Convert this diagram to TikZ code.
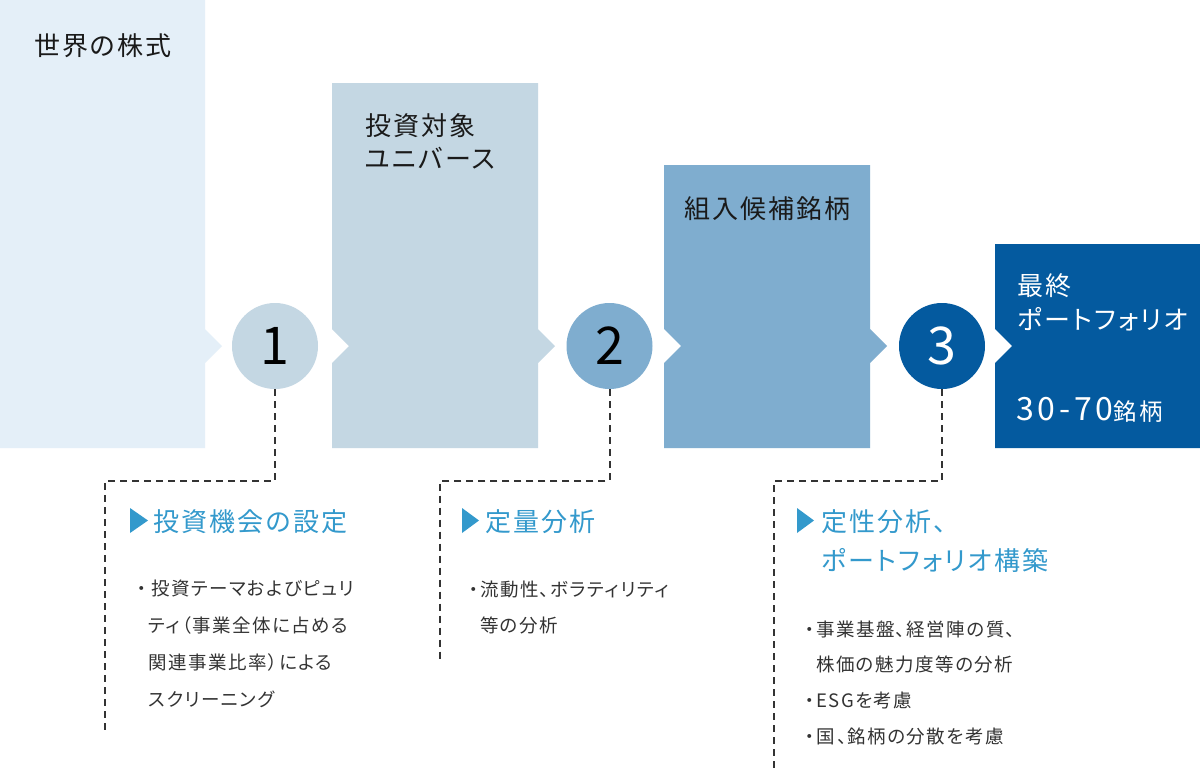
\documentclass[tikz,border=0pt]{standalone}
\usepackage{fontspec}
\setmainfont{Noto Sans CJK JP}[RawFeature=+palt]
\newfontfamily\jpsp{Noto Sans CJK JP}[LetterSpace=8,RawFeature=+palt]
\newfontfamily\jpnum{Noto Sans CJK JP}[LetterSpace=6]
\newfontfamily\jpbig{Noto Sans CJK JP}[LetterSpace=12]
\definecolor{cA}{HTML}{E4EFF8}
\definecolor{cB}{HTML}{C4D7E3}
\definecolor{cC}{HTML}{7FADCF}
\definecolor{cD}{HTML}{045A9F}
\definecolor{hd}{HTML}{3399CC}
\definecolor{tx}{HTML}{333333}
\definecolor{bx}{HTML}{1A1A1A}
\tikzset{
  boxtxt/.style={anchor=base west,inner sep=0pt,text=bx,font=\jpsp\fontsize{26}{30}\selectfont},
  headtxt/.style={anchor=base west,inner sep=0pt,text=hd,font=\jpsp\fontsize{26}{30}\selectfont},
  bultxt/.style={anchor=base west,inner sep=0pt,text=tx,font=\jpsp\fontsize{18.5}{22}\selectfont},
  buldot/.style={anchor=base,inner sep=0pt,text=tx,font=\jpsp\fontsize{18.5}{22}\selectfont},
  circ/.style={circle,minimum size=86pt,inner sep=0pt,font=\jpnum\fontsize{52}{56}\selectfont},
  dashline/.style={draw=tx,line width=2pt,dash pattern=on 7pt off 5pt},
  marker/.style={fill=hd}
}
\begin{document}
\begin{tikzpicture}[x=1pt,y=-1pt]
\useasboundingbox (0,0) rectangle (1200,769);
\fill[white] (0,0) rectangle (1200,769);
% boxes
\fill[cA] (0,0) -- (205,0) -- (205,329) -- (222,346) -- (205,363) -- (205,448) -- (0,448) -- cycle;
\fill[cB] (332,83) -- (538,83) -- (538,329) -- (555,346) -- (538,363) -- (538,448) -- (332,448) -- (332,363) -- (349,346) -- (332,329) -- cycle;
\fill[cC] (664,165) -- (870,165) -- (870,329) -- (887,346) -- (870,363) -- (870,448) -- (664,448) -- (664,363) -- (681,346) -- (664,329) -- cycle;
\fill[cD] (995,244) -- (1200,244) -- (1200,448) -- (995,448) -- (995,363) -- (1012,346) -- (995,329) -- cycle;
% box texts
\node[boxtxt] (t0) at (34,55.5) {世界の株式};
\node[boxtxt] (t1a) at (365,135.5) {投資対象};
\node[boxtxt] (t1b) at (365,168.5) {ユニバース};
\node[boxtxt] (t2) at (684,218) {組入候補銘柄};
\node[boxtxt,text=white] (t3a) at (1017,295.5) {最終};
\node[boxtxt,text=white] (t3b) at (1017,329.5) {ポートフォリオ};
\node[anchor=base west,inner sep=0pt,text=white] (t3c) at (1016,420) {{\jpbig\fontsize{32}{34}\selectfont 30-70}{\jpsp\fontsize{23.5}{26}\selectfont 銘柄}};
% circles
\node[circ,fill=cB,text=black] (n1) at (275,346) {1};
\node[circ,fill=cC,text=black] (n2) at (609.5,346) {2};
\node[circ,fill=cD,text=white] (n3) at (942,346) {3};
% dashed connectors
\coordinate (k1) at (105,481); \coordinate (e1) at (105,733);
\coordinate (k2) at (440,481); \coordinate (e2) at (440,660);
\coordinate (k3) at (774,481); \coordinate (e3) at (774,769);
\draw[dashline] (n1.south) |- (k1) -- (e1);
\draw[dashline] (n2.south) |- (k2) -- (e2);
\draw[dashline] (n3.south) |- (k3) -- (e3);
% headings
\fill[marker] (130,508) -- (148,520.5) -- (130,533) -- cycle;
\fill[marker] (462,508) -- (479,520.5) -- (462,533) -- cycle;
\fill[marker] (797,508) -- (814,520.5) -- (797,533) -- cycle;
\node[headtxt] (h1) at (153.5,531.5) {投資機会の設定};
\node[headtxt] (h2) at (485.5,531.5) {定量分析};
\node[headtxt] (h3a) at (821.5,531.5) {定性分析、};
\node[headtxt] (h3b) at (821.5,570) {ポートフォリオ構築};
% bullets block 1
\node[buldot] (d1a) at (141.7,595) {・};
\node[bultxt] (b1a) at (151,595) {投資テーマおよびピュリ};
\node[bultxt] (b1b) at (148.5,632) {ティ（事業全体に占める};
\node[bultxt] (b1c) at (148.5,669) {関連事業比率）による};
\node[bultxt] (b1d) at (148.5,706.5) {スクリーニング};
% bullets block 2
\node[buldot] (d2a) at (473.3,596) {・};
\node[bultxt] (b2a) at (480,596) {流動性、ボラティリティ};
\node[bultxt] (b2b) at (480,632) {等の分析};
% bullets block 3
\node[buldot] (d3a) at (809.3,636.5) {・};
\node[bultxt] (b3a) at (816,636.5) {事業基盤、経営陣の質、};
\node[bultxt] (b3b) at (816,671) {株価の魅力度等の分析};
\node[buldot] (d3c) at (809.3,707) {・};
\node[bultxt] (b3c) at (816,707) {ESGを考慮};
\node[buldot] (d3d) at (809.3,743) {・};
\node[bultxt] (b3d) at (816,743) {国\hspace{2.5pt}、\hspace{1pt}銘柄の分散を考慮};
\end{tikzpicture}
\end{document}
